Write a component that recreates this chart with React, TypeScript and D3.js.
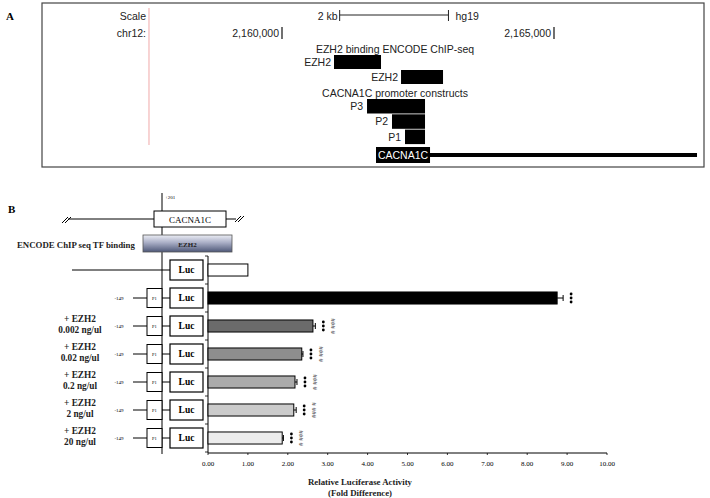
import React from 'react';
import * as d3 from 'd3';

// ---------- Panel A data (genomic, hg19 chr12) ----------
const coordTicks = [2160000, 2165000];
const highlightPos = 2157555;
const scaleBarStart = 2161060;
const scaleBarLength = 2000;
const ezh2Labels = ['EZH2', 'EZH2'];
const ezh2Starts = [2160956, 2162188];
const ezh2Ends = [2161820, 2162960];
const constructLabels = ['P3', 'P2', 'P1'];
const constructStarts = [2161563, 2162022, 2162261];
const constructEnds = [2162629, 2162629, 2162629];
const geneName = 'CACNA1C';
const geneStart = 2161728;
const geneLabelEnd = 2162721;
const geneEnd = 2167629;

// ---------- Panel B data ----------
const rowLine1 = ['', '', '+ EZH2', '+ EZH2', '+ EZH2', '+ EZH2', '+ EZH2'];
const rowLine2 = ['', '', '0.002 ng/ul', '0.02 ng/ul', '0.2 ng/ul', '2 ng/ul', '20 ng/ul'];
const hasP1 = [false, true, true, true, true, true, true];
const values = [1.0, 8.75, 2.63, 2.35, 2.18, 2.15, 1.86];
const errors = [0, 0.15, 0.06, 0.03, 0.05, 0.06, 0.03];
const stars = [false, true, true, true, true, true, true];
const hashes = ['', '', '# ###', '# ###', '# ###', '### #', '# ###'];
const xTicks = [0, 1, 2, 3, 4, 5, 6, 7, 8, 9, 10];

const barFills = ['#ffffff', '#000000', '#6b6b6b', '#8e8e8e', '#ababab', '#cbcbcb', '#ececec'];

const SANS = 'Liberation Sans, Arial, sans-serif';
const SERIF = 'Liberation Serif, Times New Roman, serif';

export default function App() {
  const g = d3.scaleLinear().domain([2160000, 2165000]).range([282, 554]);
  const x = d3.scaleLinear().domain([0, 10]).range([208, 607]);
  const y = d3.scaleBand<number>().domain(d3.range(values.length)).range([256, 452]).paddingInner(0.57).paddingOuter(0.285);
  const step = y.step();
  const rowC = (i: number) => (y(i) as number) + y.bandwidth() / 2;
  const fmt = d3.format('.2f');
  const comma = d3.format(',');

  return (
    <svg width={710} height={498} style={{ position: 'absolute', left: 0, top: 0, background: '#fff' }}>
      <defs>
        <linearGradient id="ezhGrad" x1="0" y1="0" x2="0" y2="1">
          <stop offset="0" stopColor="#eceef5" />
          <stop offset="0.45" stopColor="#a9aec6" />
          <stop offset="1" stopColor="#4e5878" />
        </linearGradient>
      </defs>

      {/* ===== Panel A ===== */}
      <text x={6} y={20} fontFamily={SERIF} fontWeight="bold" fontSize={11}>A</text>
      <rect x={42} y={3} width={662} height={164} fill="none" stroke="#444" strokeWidth={1.2} />
      <line x1={g(highlightPos)} x2={g(highlightPos)} y1={8} y2={145} stroke="#f0a8a8" strokeWidth={1} />
      <text x={146} y={20} textAnchor="end" fontFamily={SANS} fontSize={10.5} fill="#222">Scale</text>
      <text x={146} y={37} textAnchor="end" fontFamily={SANS} fontSize={10.5} fill="#222">chr12:</text>
      <text x={g(scaleBarStart) - 2} y={20} textAnchor="end" fontFamily={SANS} fontSize={10.5} fill="#222">2 kb</text>
      <line x1={g(scaleBarStart)} x2={g(scaleBarStart + scaleBarLength)} y1={15} y2={15} stroke="#222" strokeWidth={1} />
      <line x1={g(scaleBarStart)} x2={g(scaleBarStart)} y1={10} y2={21} stroke="#222" strokeWidth={1} />
      <line x1={g(scaleBarStart + scaleBarLength)} x2={g(scaleBarStart + scaleBarLength)} y1={10} y2={21} stroke="#222" strokeWidth={1} />
      <text x={g(scaleBarStart + scaleBarLength) + 7} y={20} fontFamily={SANS} fontSize={10.5} fill="#222">hg19</text>
      {coordTicks.map((c) => (
        <g key={c}>
          <line x1={g(c)} x2={g(c)} y1={27} y2={39} stroke="#111" strokeWidth={1.2} />
          <text x={g(c) - 3} y={37} textAnchor="end" fontFamily={SANS} fontSize={10.5} fill="#222">{comma(c)}</text>
        </g>
      ))}
      <text x={395} y={53} textAnchor="middle" fontFamily={SANS} fontSize={10.5} fill="#222">EZH2 binding ENCODE ChIP-seq</text>
      {ezh2Labels.map((l, i) => (
        <g key={'e' + i}>
          <rect x={g(ezh2Starts[i])} y={55 + i * 15} width={g(ezh2Ends[i]) - g(ezh2Starts[i])} height={14} fill="#000" />
          <text x={g(ezh2Starts[i]) - 3} y={66 + i * 15} textAnchor="end" fontFamily={SANS} fontSize={10.5} fill="#222">{l}</text>
        </g>
      ))}
      <text x={395} y={97} textAnchor="middle" fontFamily={SANS} fontSize={10.5} fill="#222">CACNA1C promoter constructs</text>
      {constructLabels.map((l, i) => (
        <g key={'c' + i}>
          <rect x={g(constructStarts[i])} y={99 + i * 15.3} width={g(constructEnds[i]) - g(constructStarts[i])} height={14.5} fill="#000" />
          <text x={g(constructStarts[i]) - 4} y={110 + i * 15.3} textAnchor="end" fontFamily={SANS} fontSize={10.5} fill="#222">{l}</text>
        </g>
      ))}
      <line x1={g(geneStart)} x2={g(geneEnd)} y1={155} y2={155} stroke="#000" strokeWidth={4} />
      <rect x={g(geneStart)} y={147} width={g(geneLabelEnd) - g(geneStart)} height={16} fill="#000" />
      <text x={(g(geneStart) + g(geneLabelEnd)) / 2} y={159} textAnchor="middle" fontFamily={SANS} fontSize={10.5} fill="#fff">{geneName}</text>

      {/* ===== Panel B ===== */}
      <text x={8} y={213} fontFamily={SERIF} fontWeight="bold" fontSize={11}>B</text>
      <line x1={162} x2={162} y1={193} y2={454} stroke="#000" strokeWidth={1} />
      <text x={165} y={199} fontFamily={SERIF} fontSize={5}>+201</text>
      {/* gene diagram */}
      <line x1={68} x2={154} y1={219} y2={219} stroke="#000" strokeWidth={1} />
      <line x1={62} x2={68} y1={223} y2={217} stroke="#000" strokeWidth={1} />
      <line x1={65} x2={71} y1={223} y2={217} stroke="#000" strokeWidth={1} />
      <rect x={154} y={211} width={72} height={16} fill="#fff" stroke="#000" strokeWidth={1} />
      <text x={190} y={222.5} textAnchor="middle" fontFamily={SERIF} fontSize={9}>CACNA1C</text>
      <line x1={226} x2={236} y1={219} y2={219} stroke="#000" strokeWidth={1} />
      <line x1={235} x2={241} y1={222} y2={216} stroke="#000" strokeWidth={1} />
      <line x1={238} x2={244} y1={222} y2={216} stroke="#000" strokeWidth={1} />
      {/* ENCODE */}
      <text x={17} y={248} fontFamily={SERIF} fontWeight="bold" fontSize={8.8} fill="#222">ENCODE ChIP seq TF binding</text>
      <rect x={143} y={235} width={89} height={17} fill="url(#ezhGrad)" stroke="#555" strokeWidth={0.8} />
      <text x={187.5} y={246.5} textAnchor="middle" fontFamily={SERIF} fontWeight="bold" fontSize={7} fill="#222">EZH2</text>

      {/* constructs */}
      {values.map((v, i) => {
        const c = rowC(i);
        return (
          <g key={'r' + i}>
            {hasP1[i] ? (
              <>
                <text x={119} y={c + 1.5} textAnchor="middle" fontFamily={SERIF} fontSize={5}>-149</text>
                <line x1={133} x2={147} y1={c} y2={c} stroke="#000" strokeWidth={1} />
                <rect x={147} y={c - 9.5} width={15} height={19} fill="#fff" stroke="#000" strokeWidth={1} />
                <text x={154.5} y={c + 1.5} textAnchor="middle" fontFamily={SERIF} fontSize={4.5}>P1</text>
                <line x1={162} x2={170} y1={c} y2={c} stroke="#000" strokeWidth={1} />
              </>
            ) : (
              <line x1={72} x2={170} y1={c} y2={c} stroke="#000" strokeWidth={1} />
            )}
            <rect x={170} y={c - 10} width={33} height={20} fill="#fff" stroke="#000" strokeWidth={1.2} />
            <text x={186.5} y={c + 3} textAnchor="middle" fontFamily={SERIF} fontWeight="bold" fontSize={9.5}>Luc</text>
            {rowLine1[i] && (
              <>
                <text x={80} y={c - 4} textAnchor="middle" fontFamily={SERIF} fontWeight="bold" fontSize={9.3} fill="#222">{rowLine1[i]}</text>
                <text x={80} y={c + 7} textAnchor="middle" fontFamily={SERIF} fontWeight="bold" fontSize={9.3} fill="#222">{rowLine2[i]}</text>
              </>
            )}
          </g>
        );
      })}

      {/* bars */}
      <line x1={x(0)} x2={x(0)} y1={256} y2={453} stroke="#000" strokeWidth={1} />
      {d3.range(values.length + 1).map((k) => (
        <line key={'yt' + k} x1={x(0) - 3} x2={x(0)} y1={256 + k * step} y2={256 + k * step} stroke="#000" strokeWidth={0.8} />
      ))}
      {values.map((v, i) => {
        const c = rowC(i);
        const end = x(v + errors[i]);
        return (
          <g key={'b' + i}>
            <rect x={x(0)} y={y(i)} width={x(v) - x(0)} height={y.bandwidth()} fill={barFills[i]} stroke="#000" strokeWidth={1} />
            {errors[i] > 0 && (
              <>
                <line x1={x(v)} x2={end} y1={c} y2={c} stroke="#000" strokeWidth={1} />
                <line x1={end} x2={end} y1={c - 3} y2={c + 3} stroke="#000" strokeWidth={1} />
              </>
            )}
            {stars[i] && [-4, 0, 4].map((d) => (
              <circle key={d} cx={end + 8} cy={c + d} r={1.4} fill="#000" />
            ))}
            {hashes[i] && (
              <text transform={`translate(${end + 18},${c}) rotate(-90)`} dy={2} textAnchor="middle" fontFamily={SERIF} fontSize={7} fill="#333">{hashes[i]}</text>
            )}
          </g>
        );
      })}
      <line x1={x(0)} x2={x(10)} y1={453} y2={453} stroke="#000" strokeWidth={1} />
      {xTicks.map((t) => (
        <g key={'xt' + t}>
          <line x1={x(t)} x2={x(t)} y1={453} y2={455} stroke="#000" strokeWidth={0.8} />
          <text x={x(t)} y={466} textAnchor="middle" fontFamily={SERIF} fontSize={7}>{fmt(t)}</text>
        </g>
      ))}
      <text x={360} y={485} textAnchor="middle" fontFamily={SERIF} fontWeight="bold" fontSize={8.8} fill="#222">Relative Luciferase Activity</text>
      <text x={360} y={496} textAnchor="middle" fontFamily={SERIF} fontWeight="bold" fontSize={8.8} fill="#222">(Fold Difference)</text>
    </svg>
  );
}
